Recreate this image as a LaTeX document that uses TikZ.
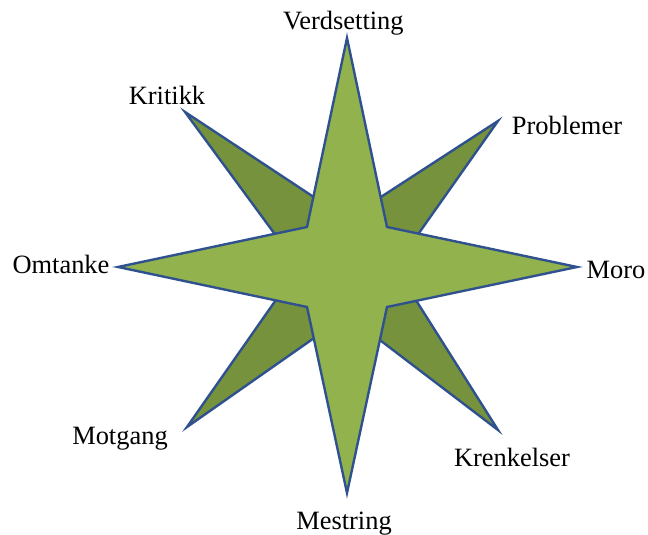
\documentclass[tikz,border=0pt]{standalone}
\usepackage{fontspec}
\setmainfont{Liberation Serif}
\definecolor{starlight}{RGB}{146,178,78}
\definecolor{stardark}{RGB}{118,146,60}
\definecolor{starline}{RGB}{47,82,143}
\begin{document}
\begin{tikzpicture}[scale=1]
                    \tikzset{backstar/.style={fill=stardark,draw=starline,line width=1.7pt,line join=miter},
                             frontstar/.style={fill=starlight,draw=starline,line width=1.7pt,line join=miter},
                             word/.style={anchor=base,inner sep=0pt,font=\rmfamily\fontsize{18.8}{22}\selectfont}}
                    \useasboundingbox (-8.675,-6.7) rectangle (7.525,6.675);
                    \draw[backstar] (-4.05,3.875) -- (0,1.2) -- (3.775,3.65) -- (1.2,0) -- (3.775,-4.075) -- (0,-1.2) -- (-4.0,-4.0) -- (-1.2,0) -- cycle;
                    \draw[frontstar] (0,5.725) -- (1,1) -- (5.75,0) -- (1,-1) -- (0,-5.65) -- (-1,-1) -- (-5.725,0) -- (-1,1) -- cycle;
                    \node[word] (N) at (-0.09,5.925) {Verdsetting};
                    \node[word] (NW) at (-4.5,4.05) {Kritikk};
                    \node[word] (NE) at (5.5,3.3) {Problemer};
                    \node[word] (E) at (6.725,-0.3) {Moro};
                    \node[word] (W) at (-7.15,-0.175) {Omtanke};
                    \node[word] (SW) at (-5.675,-4.45) {Motgang};
                    \node[word] (SE) at (4.125,-5.0) {Krenkelser};
                    \node[word] (S) at (-0.075,-6.55) {Mestring};
                \end{tikzpicture}
\end{document}
